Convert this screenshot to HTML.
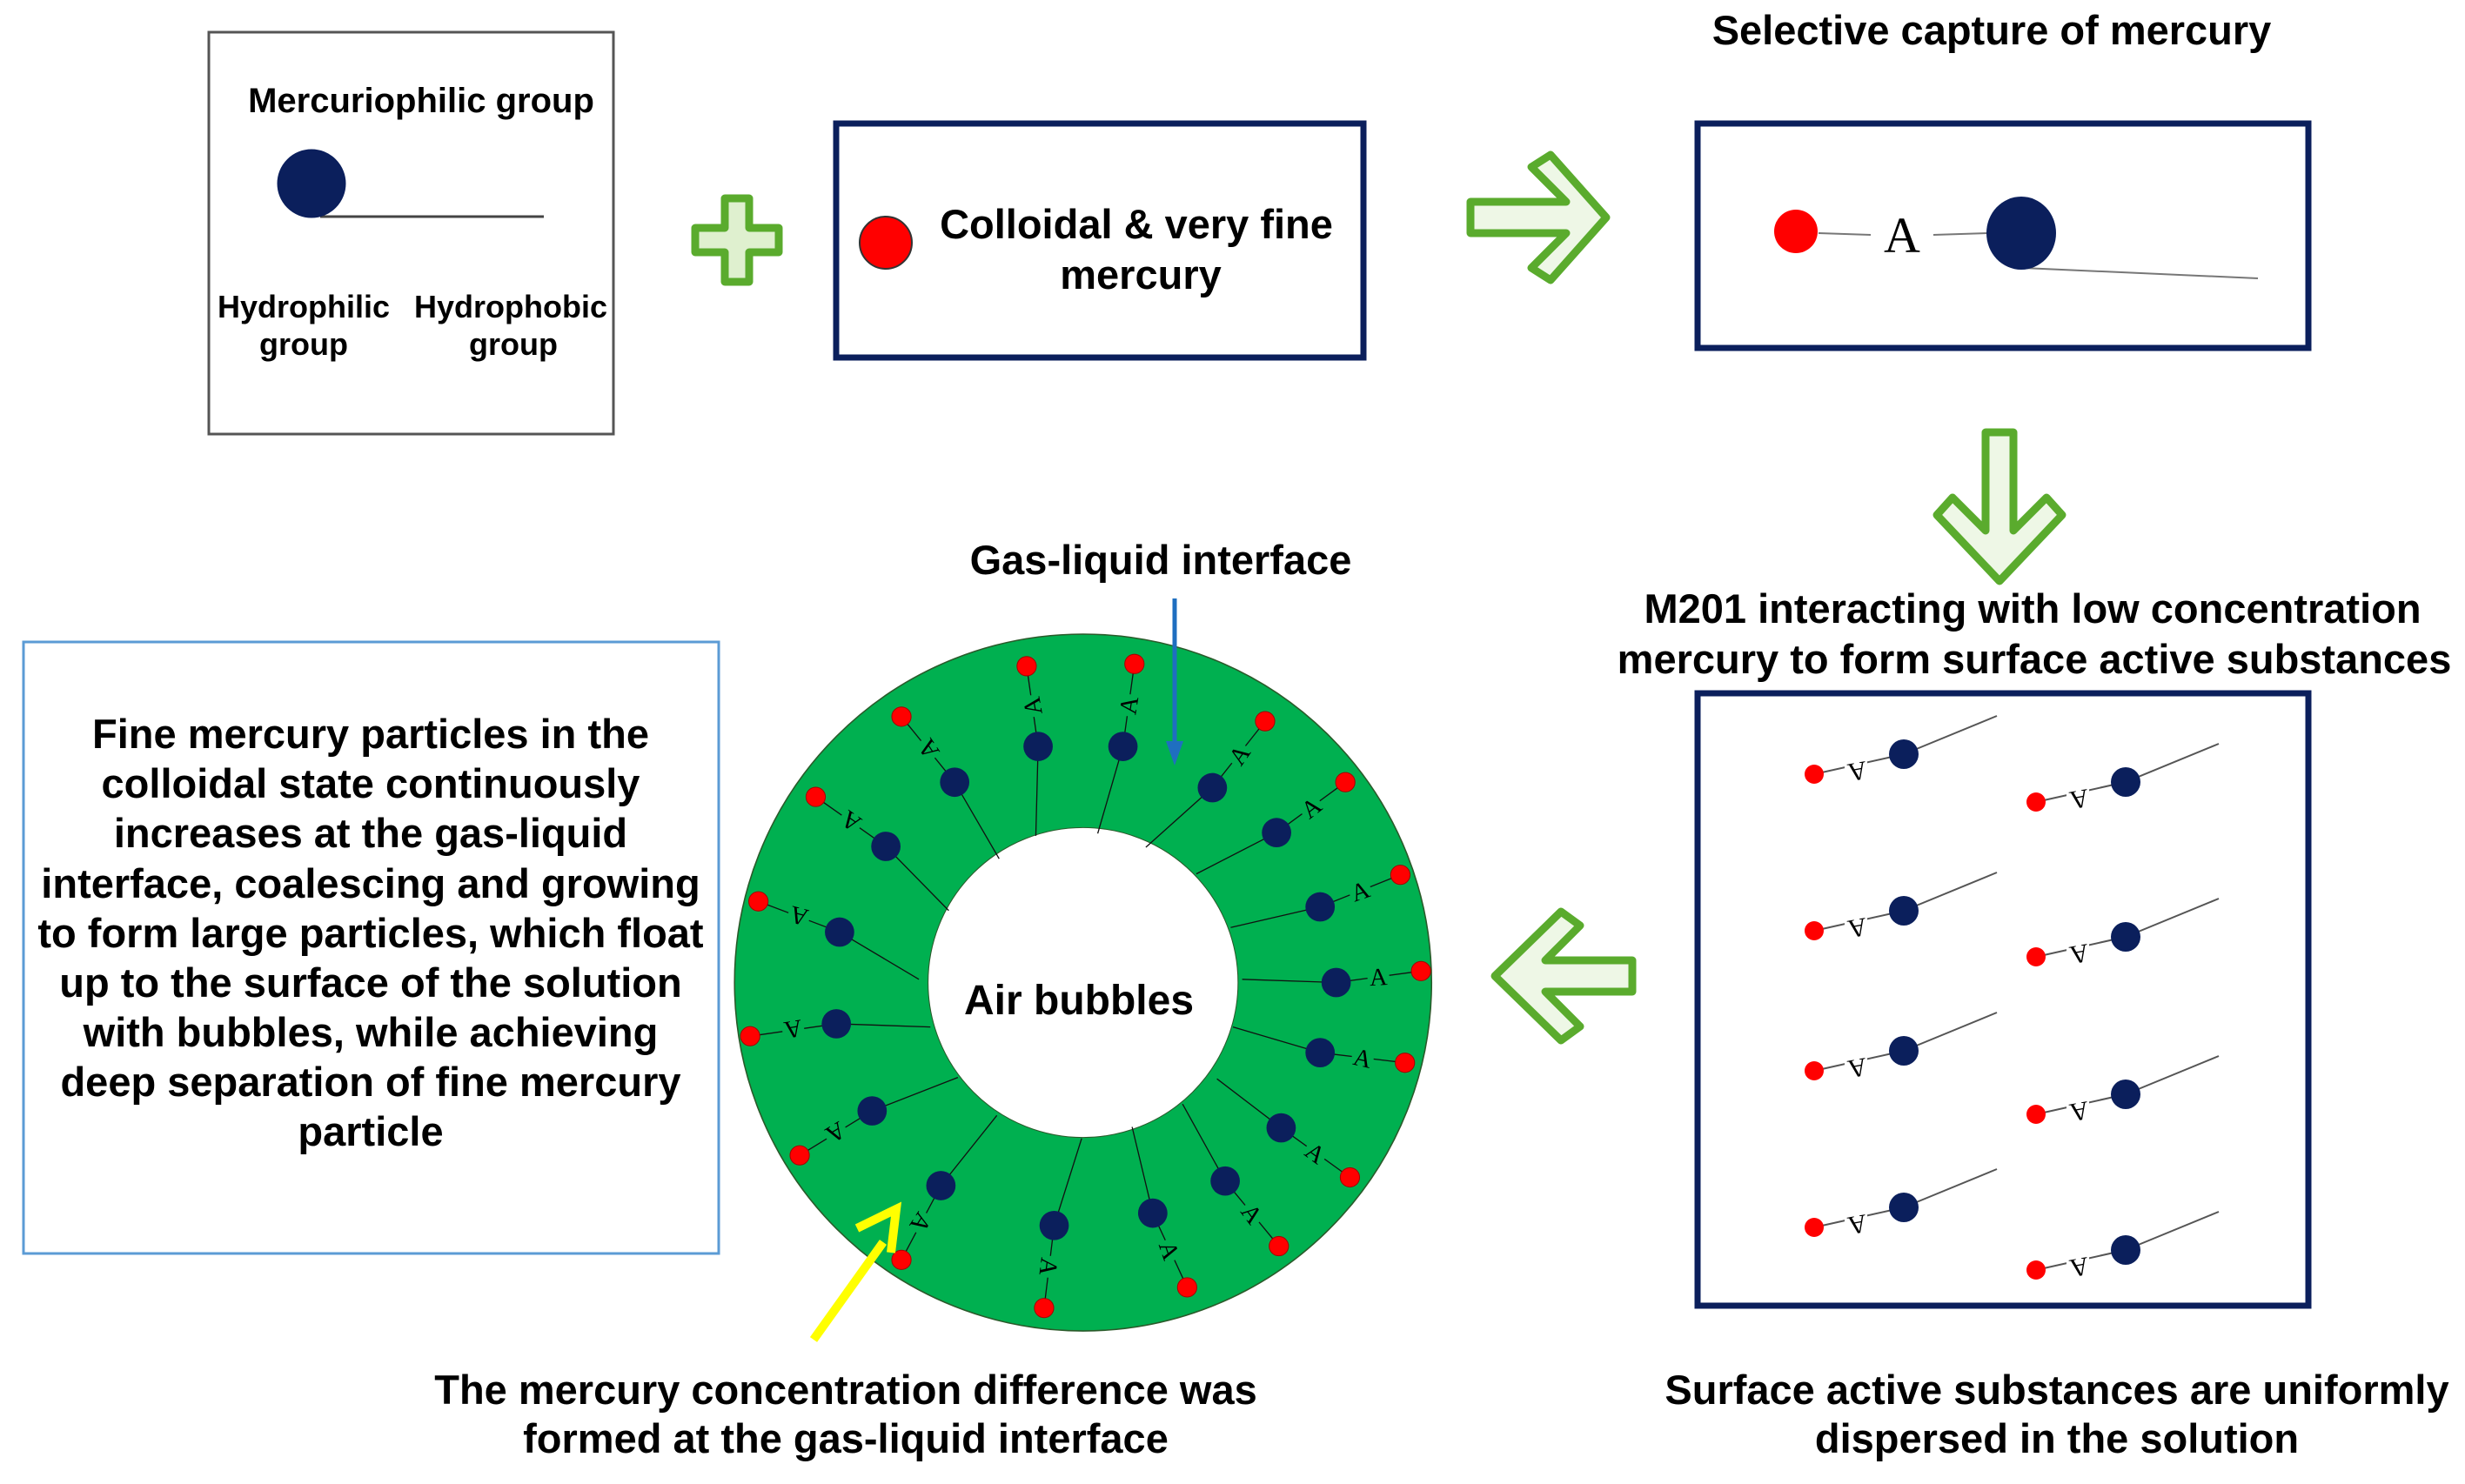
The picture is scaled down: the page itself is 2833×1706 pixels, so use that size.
<!DOCTYPE html>
<html><head><meta charset="utf-8"><style>
html,body{margin:0;padding:0;background:#fff;}
svg{display:block;}
.b{font-family:"Liberation Sans",Arial,sans-serif;font-weight:bold;fill:#000;}
</style></head><body>
<svg width="2833" height="1706" viewBox="0 0 2833 1706" xmlns="http://www.w3.org/2000/svg">
<rect width="2833" height="1706" fill="#fff"/>

<!-- Box 1 -->
<rect x="240" y="37" width="465" height="462" fill="#fff" stroke="#555" stroke-width="3"/>
<text class="b" x="484" y="129" font-size="40" text-anchor="middle">Mercuriophilic group</text>
<line x1="368" y1="249" x2="625" y2="249" stroke="#444" stroke-width="3"/>
<circle cx="358" cy="211" r="39" fill="#0b1f5c" stroke="#0b1f5c"/>
<text class="b" x="349" y="365" font-size="36" text-anchor="middle">Hydrophilic</text>
<text class="b" x="349" y="408" font-size="36" text-anchor="middle">group</text>
<text class="b" x="587" y="365" font-size="36" text-anchor="middle">Hydrophobic</text>
<text class="b" x="590" y="408" font-size="36" text-anchor="middle">group</text>

<!-- Plus -->
<path d="M833,228 h28 v34 h34 v28 h-34 v34 h-28 v-34 h-34 v-28 h34 z" fill="#dff0cf" stroke="#5aab2d" stroke-width="9" stroke-linejoin="round"/>

<!-- Box 2 -->
<rect x="961" y="142" width="606" height="269" fill="#fff" stroke="#0b1f5c" stroke-width="7"/>
<circle cx="1018" cy="279" r="30" fill="#ff0000" stroke="#333" stroke-width="2"/>
<text class="b" x="1306" y="274" font-size="47" text-anchor="middle">Colloidal &amp; very fine</text>
<text class="b" x="1311" y="332" font-size="47" text-anchor="middle">mercury</text>

<!-- Right arrow -->
<path d="M1690,232 L1800,232 L1760,192 L1782,178 L1846,250 L1782,322 L1760,308 L1800,268 L1690,268 Z" fill="#eef7e6" stroke="#5aab2d" stroke-width="9" stroke-linejoin="round"/>

<!-- Box 3 -->
<text class="b" x="2289" y="51" font-size="47" text-anchor="middle">Selective capture of mercury</text>
<rect x="1951" y="142" width="702" height="258" fill="#fff" stroke="#0b1f5c" stroke-width="7"/>
<line x1="2090" y1="268" x2="2150" y2="270" stroke="#777" stroke-width="2"/>
<line x1="2222" y1="270" x2="2285" y2="268" stroke="#777" stroke-width="2"/>
<text x="2186" y="290" font-family="Liberation Serif,serif" font-size="58" text-anchor="middle">A</text>
<circle cx="2064" cy="266" r="25" fill="#ff0000"/>
<line x1="2325" y1="308" x2="2595" y2="320" stroke="#777" stroke-width="2"/>
<ellipse cx="2323" cy="268" rx="40" ry="42" fill="#0b1f5c"/>

<!-- Down arrow -->
<path d="M2282,497 L2314,497 L2314,610 L2352,572 L2370,592 L2298,668 L2226,592 L2244,572 L2282,610 Z" fill="#eef7e6" stroke="#5aab2d" stroke-width="9" stroke-linejoin="round"/>

<text class="b" x="2336" y="716" font-size="47" text-anchor="middle">M201 interacting with low concentration</text>
<text class="b" x="2338" y="774" font-size="47" text-anchor="middle">mercury to form surface active substances</text>

<!-- Box 4 -->
<rect x="1951" y="797" width="702" height="704" fill="#fff" stroke="#0b1f5c" stroke-width="7"/>
<g id="m4">
<line x1="2085" y1="890" x2="2188" y2="867" stroke="#555" stroke-width="2"/>
<line x1="2188" y1="867" x2="2295" y2="823" stroke="#555" stroke-width="2"/>
<rect x="2120" y="864" width="26" height="28" fill="#fff"/>
<text x="2133" y="877" font-family="Liberation Serif,serif" font-size="30" text-anchor="middle" transform="rotate(170 2133 877)">A</text>
<circle cx="2085" cy="890" r="11" fill="#ff0000"/>
<circle cx="2188" cy="867" r="17" fill="#0b1f5c"/>
</g>
<use href="#m4" transform="translate(0,180)"/>
<use href="#m4" transform="translate(0,341)"/>
<use href="#m4" transform="translate(0,521)"/>
<use href="#m4" transform="translate(255,32)"/>
<use href="#m4" transform="translate(255,210)"/>
<use href="#m4" transform="translate(255,391)"/>
<use href="#m4" transform="translate(255,570)"/>

<!-- Left arrow -->
<path d="M1876,1104 L1776,1104 L1816,1064 L1794,1048 L1718,1122 L1794,1196 L1816,1180 L1776,1140 L1876,1140 Z" fill="#eef7e6" stroke="#5aab2d" stroke-width="9" stroke-linejoin="round"/>

<text class="b" x="2364" y="1614" font-size="47" text-anchor="middle">Surface active substances are uniformly</text>
<text class="b" x="2364" y="1670" font-size="47" text-anchor="middle">dispersed in the solution</text>

<!-- Ring -->
<g transform="translate(840,700) scale(0.527)">
<circle cx="768" cy="815" r="760" fill="#00b050" stroke="#2a5a2a" stroke-width="3"/>
<circle cx="768" cy="815" r="338" fill="#fff" stroke="#2a5a2a" stroke-width="2"/>
<g stroke="#111" stroke-width="2.5">
<path d="M645,125L670,300L665,495 M880,120L855,300L800,490 M1165,245L1050,390L905,520 M1340,378L1190,488L1015,578 M1460,580L1285,650L1090,695 M1505,790L1320,815L1115,808 M1470,990L1285,968L1095,912 M1350,1240L1200,1132L1060,1025 M1195,1390L1078,1248L985,1080 M995,1480L920,1318L875,1130 M683,1525L705,1345L765,1155 M372,1420L458,1258L580,1105 M150,1192L308,1095L495,1022 M42,932L230,905L435,912 M60,638L237,705L410,808 M185,410L338,518L475,658 M372,235L488,378L585,545" fill="none"/>
</g>
<g fill="#ff0000" stroke="#a00" stroke-width="2">
<circle cx="645" cy="125" r="21"/><circle cx="880" cy="120" r="21"/><circle cx="1165" cy="245" r="21"/><circle cx="1340" cy="378" r="21"/><circle cx="1460" cy="580" r="21"/><circle cx="1505" cy="790" r="21"/><circle cx="1470" cy="990" r="21"/><circle cx="1350" cy="1240" r="21"/><circle cx="1195" cy="1390" r="21"/><circle cx="995" cy="1480" r="21"/><circle cx="683" cy="1525" r="21"/><circle cx="372" cy="1420" r="21"/><circle cx="150" cy="1192" r="21"/><circle cx="42" cy="932" r="21"/><circle cx="60" cy="638" r="21"/><circle cx="185" cy="410" r="21"/><circle cx="372" cy="235" r="21"/>
</g>
<g fill="#0b1f5c">
<circle cx="670" cy="300" r="32"/><circle cx="855" cy="300" r="32"/><circle cx="1050" cy="390" r="32"/><circle cx="1190" cy="488" r="32"/><circle cx="1285" cy="650" r="32"/><circle cx="1320" cy="815" r="32"/><circle cx="1285" cy="968" r="32"/><circle cx="1200" cy="1132" r="32"/><circle cx="1078" cy="1248" r="32"/><circle cx="920" cy="1318" r="32"/><circle cx="705" cy="1345" r="32"/><circle cx="458" cy="1258" r="32"/><circle cx="308" cy="1095" r="32"/><circle cx="230" cy="905" r="32"/><circle cx="237" cy="705" r="32"/><circle cx="338" cy="518" r="32"/><circle cx="488" cy="378" r="32"/>
</g>
<g fill="#00b050">
<circle cx="657" cy="212" r="24"/><circle cx="867" cy="210" r="24"/><circle cx="1108" cy="318" r="24"/><circle cx="1265" cy="433" r="24"/><circle cx="1372" cy="615" r="24"/><circle cx="1412" cy="802" r="24"/><circle cx="1378" cy="979" r="24"/><circle cx="1275" cy="1186" r="24"/><circle cx="1137" cy="1319" r="24"/><circle cx="957" cy="1399" r="24"/><circle cx="694" cy="1435" r="24"/><circle cx="415" cy="1339" r="24"/><circle cx="229" cy="1143" r="24"/><circle cx="136" cy="918" r="24"/><circle cx="148" cy="671" r="24"/><circle cx="261" cy="464" r="24"/><circle cx="430" cy="306" r="24"/>
</g>
<g font-family="Liberation Serif,serif" font-size="54" text-anchor="middle" fill="#000">
<text x="657" y="231" transform="rotate(260 657 212)">A</text>
<text x="867" y="229" transform="rotate(279 867 210)">A</text>
<text x="1108" y="337" transform="rotate(305 1108 318)">A</text>
<text x="1265" y="452" transform="rotate(322 1265 433)">A</text>
<text x="1372" y="634" transform="rotate(341 1372 615)">A</text>
<text x="1412" y="821" transform="rotate(357 1412 802)">A</text>
<text x="1378" y="998" transform="rotate(13 1378 979)">A</text>
<text x="1275" y="1205" transform="rotate(36 1275 1186)">A</text>
<text x="1137" y="1338" transform="rotate(53 1137 1319)">A</text>
<text x="957" y="1418" transform="rotate(71 957 1399)">A</text>
<text x="694" y="1454" transform="rotate(97 694 1435)">A</text>
<text x="415" y="1358" transform="rotate(123 415 1339)">A</text>
<text x="229" y="1162" transform="rotate(149 229 1143)">A</text>
<text x="136" y="937" transform="rotate(171 136 918)">A</text>
<text x="148" y="690" transform="rotate(195 148 671)">A</text>
<text x="261" y="483" transform="rotate(215 261 464)">A</text>
<text x="430" y="325" transform="rotate(236 430 306)">A</text>
</g>
</g>
<text class="b" x="1240" y="1166" font-size="48" text-anchor="middle">Air bubbles</text>

<!-- Blue arrow -->
<line x1="1350" y1="688" x2="1350" y2="855" stroke="#1f6fc0" stroke-width="5"/>
<path d="M1340,852 L1360,852 L1350,880 Z" fill="#1f6fc0"/>
<text class="b" x="1334" y="660" font-size="47" text-anchor="middle">Gas-liquid interface</text>

<!-- Yellow arrow -->
<line x1="935" y1="1540" x2="1015" y2="1428" stroke="#ffff00" stroke-width="10"/>
<path d="M985,1412 L1030,1390 L1024,1440" fill="none" stroke="#ffff00" stroke-width="10"/>

<text class="b" x="972" y="1614" font-size="47" text-anchor="middle">The mercury concentration difference was</text>
<text class="b" x="972" y="1670" font-size="47" text-anchor="middle">formed at the gas-liquid interface</text>

<!-- Left box -->
<rect x="27" y="738" width="799" height="703" fill="#fff" stroke="#5b9bd5" stroke-width="3"/>
<g class="b" font-size="47" text-anchor="middle">
<text x="426" y="860">Fine mercury particles in the</text>
<text x="426" y="917">colloidal state continuously</text>
<text x="426" y="974">increases at the gas-liquid</text>
<text x="426" y="1032">interface, coalescing and growing</text>
<text x="426" y="1089">to form large particles, which float</text>
<text x="426" y="1146">up to the surface of the solution</text>
<text x="426" y="1203">with bubbles, while achieving</text>
<text x="426" y="1260">deep separation of fine mercury</text>
<text x="426" y="1317">particle</text>
</g>
</svg>
</body></html>
